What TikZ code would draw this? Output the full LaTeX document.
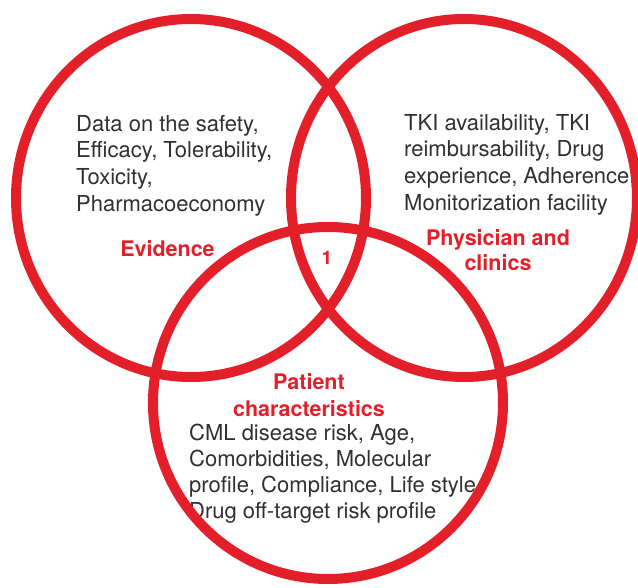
\documentclass[tikz,border=0pt]{standalone}
\usepackage{fontspec}
\setmainfont{TeX Gyre Heros}
\usepackage{tikz}
\usetikzlibrary{positioning}
\definecolor{vennred}{HTML}{E3202A}
\definecolor{textgray}{HTML}{303030}
\tikzset{ring/.style={draw=vennred,line width=10pt}}
\tikzset{body node/.style={anchor=north west,inner sep=0pt,align=left,text=textgray,
font=\fontsize{22}{26.6}\selectfont}}
\tikzset{head node/.style={inner sep=0pt,align=center,text=vennred,
font=\fontsize{21.5}{26.5}\selectfont\bfseries}}

\begin{document}
\begin{tikzpicture}[x=1pt,y=-1pt]
\useasboundingbox (0,0) rectangle (638,588);

% contents of each set
\node[body node] (evidtext) at (76,115) {Data on the safety,\\Efficacy, Tolerability,\\Toxicity,\\Pharmacoeconomy};
\node[body node] (phystext) at (404,114) {TKI availability, TKI\\reimbursability, Drug\\experience, Adherence,\\Monitorization facility};
\node[body node,font=\fontsize{22}{25.8}\selectfont] (pattext) at (189,424) {CML disease risk, Age,\\Comorbidities, Molecular\\profile, Compliance, Life style\\Drug off-target risk profile};

% set titles
\node[head node,anchor=base] (evid) at (167.5,257) {Evidence};
\node[head node,anchor=north,font=\fontsize{21.5}{25}\selectfont\bfseries] (phys) at (498,229.5) {Physician and\\clinics};
\node[head node,anchor=north,font=\fontsize{21.5}{27}\selectfont\bfseries] (pat) at (309,373.5) {Patient\\characteristics};
\node[head node,font=\fontsize{19}{19}\selectfont\bfseries] (core) at (327,258) {1};

% the three sets
\draw[ring] (191,198) ellipse [x radius=175, y radius=179];
\draw[ring] (464,198) ellipse [x radius=173, y radius=179];
\draw[ring] (328,403) ellipse [x radius=175, y radius=176];

\end{tikzpicture}
\end{document}
